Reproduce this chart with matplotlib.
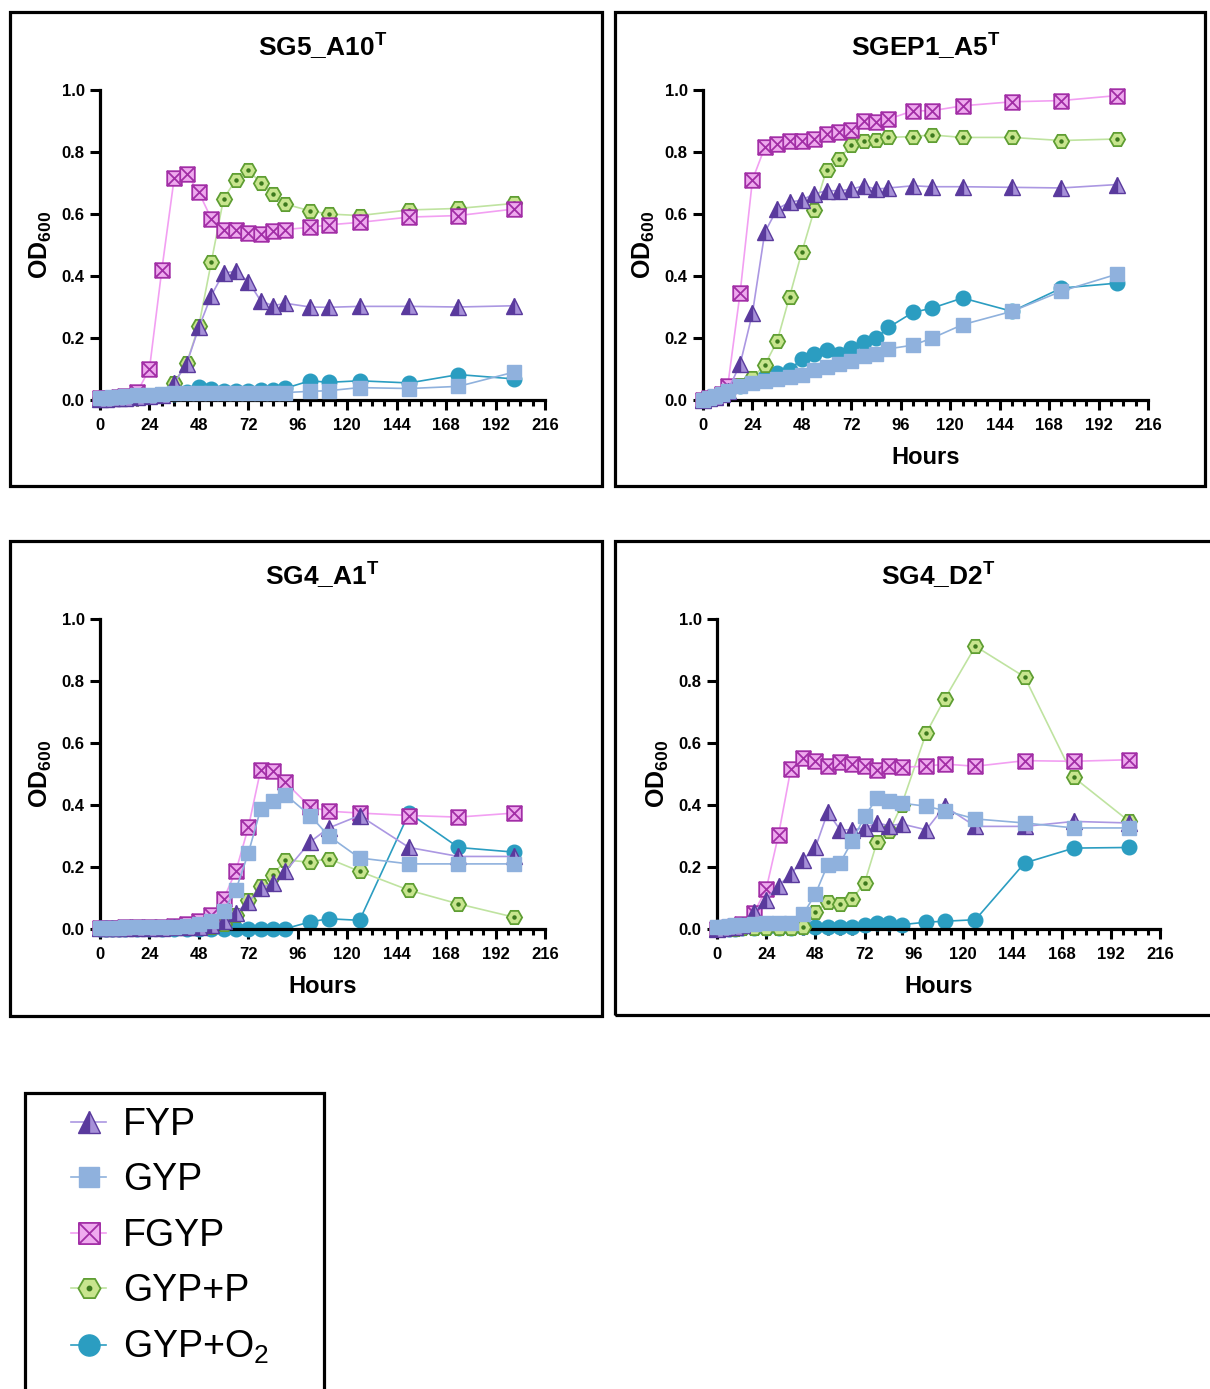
import matplotlib
matplotlib.use("Agg")
import matplotlib.pyplot as plt
from matplotlib.patches import Rectangle
from matplotlib.path import Path
from matplotlib.ticker import MultipleLocator, FormatStrFormatter

W, H = 1210, 1389

plt.rcParams["font.family"] = "Liberation Sans"
plt.rcParams["mathtext.fontset"] = "custom"
plt.rcParams["mathtext.rm"] = "Liberation Sans"
plt.rcParams["mathtext.bf"] = "Liberation Sans:bold"

# sampling times (hours)
HOURS = [0, 3, 6, 9, 12, 18, 24, 30, 36, 42, 48, 54, 60, 66, 72, 78, 84, 90,
         102, 111, 126, 150, 174, 201]

SERIES = ["FYP", "GYP", "FGYP", "GYP+P", "GYP+O2"]
LEGEND_LABELS = ["FYP", "GYP", "FGYP", "GYP+P", r"GYP+O$_\mathrm{2}$"]

# SG5_A10
fyp_a10 = [0.003, 0.004, 0.005, 0.006, 0.008, 0.01, 0.012, 0.015, 0.055, 0.116, 0.234, 0.337,
           0.41, 0.415, 0.382, 0.32, 0.304, 0.312, 0.30, 0.299, 0.302, 0.302, 0.30, 0.304]
gyp_a10 = [0.005, 0.007, 0.009, 0.011, 0.013, 0.015, 0.017, 0.019, 0.021, 0.022, 0.023, 0.023,
           0.023, 0.023, 0.023, 0.023, 0.023, 0.024, 0.028, 0.03, 0.04, 0.037, 0.044, 0.09]
fgyp_a10 = [0.005, 0.006, 0.008, 0.01, 0.012, 0.025, 0.10, 0.42, 0.715, 0.73, 0.67, 0.585,
            0.55, 0.55, 0.54, 0.535, 0.545, 0.55, 0.557, 0.565, 0.573, 0.59, 0.595, 0.616]
gypp_a10 = [0.005, 0.006, 0.008, 0.01, 0.012, 0.014, 0.016, 0.02, 0.056, 0.118, 0.24, 0.444,
            0.65, 0.71, 0.742, 0.70, 0.665, 0.632, 0.61, 0.60, 0.595, 0.613, 0.618, 0.634]
gypo_a10 = [0.003, 0.004, 0.005, 0.006, 0.008, 0.01, 0.012, 0.015, 0.02, 0.025, 0.043, 0.035,
            0.03, 0.03, 0.03, 0.032, 0.032, 0.038, 0.062, 0.057, 0.062, 0.055, 0.082, 0.068]

# SGEP1_A5
fyp_a5 = [0.0, 0.005, 0.01, 0.02, 0.03, 0.115, 0.28, 0.541, 0.616, 0.638, 0.645, 0.665,
          0.675, 0.675, 0.68, 0.691, 0.68, 0.684, 0.691, 0.688, 0.688, 0.686, 0.684, 0.695]
gyp_a5 = [0.0, 0.005, 0.012, 0.02, 0.03, 0.045, 0.055, 0.06, 0.068, 0.075, 0.081, 0.097,
          0.108, 0.116, 0.127, 0.143, 0.148, 0.165, 0.177, 0.199, 0.243, 0.286, 0.351, 0.406]
fgyp_a5 = [0.0, 0.005, 0.01, 0.02, 0.045, 0.345, 0.71, 0.815, 0.826, 0.836, 0.836, 0.842,
           0.858, 0.863, 0.871, 0.899, 0.896, 0.906, 0.933, 0.933, 0.949, 0.962, 0.966, 0.982]
gypp_a5 = [0.0, 0.005, 0.01, 0.02, 0.03, 0.05, 0.072, 0.113, 0.19, 0.333, 0.478, 0.613,
           0.743, 0.777, 0.823, 0.837, 0.839, 0.847, 0.85, 0.855, 0.847, 0.847, 0.837, 0.842]
gypo_a5 = [0.0, 0.005, 0.01, 0.02, 0.03, 0.045, 0.065, 0.075, 0.088, 0.098, 0.132, 0.148,
           0.161, 0.148, 0.167, 0.188, 0.199, 0.234, 0.283, 0.296, 0.329, 0.286, 0.361, 0.377]

# SG4_A1
fyp_a1 = [0.002, 0.002, 0.002, 0.003, 0.003, 0.003, 0.004, 0.004, 0.005, 0.006, 0.008, 0.012,
          0.025, 0.052, 0.087, 0.132, 0.148, 0.186, 0.281, 0.326, 0.366, 0.263, 0.234, 0.234]
gyp_a1 = [0.003, 0.003, 0.004, 0.004, 0.005, 0.005, 0.006, 0.007, 0.008, 0.01, 0.015, 0.025,
          0.059, 0.127, 0.245, 0.387, 0.414, 0.433, 0.366, 0.30, 0.229, 0.21, 0.21, 0.21]
fgyp_a1 = [0.003, 0.003, 0.004, 0.004, 0.005, 0.006, 0.007, 0.008, 0.01, 0.016, 0.027, 0.046,
           0.097, 0.188, 0.328, 0.514, 0.509, 0.473, 0.394, 0.38, 0.374, 0.366, 0.361, 0.374]
gypp_a1 = [0.001, 0.001, 0.001, 0.002, 0.002, 0.002, 0.002, 0.003, 0.003, 0.004, 0.005, 0.008,
           0.015, 0.046, 0.092, 0.14, 0.175, 0.222, 0.216, 0.227, 0.186, 0.125, 0.081, 0.038]
gypo_a1 = [0.001, 0.001, 0.001, 0.001, 0.001, 0.001, 0.001, 0.001, 0.001, 0.001, 0.001, 0.001,
           0.001, 0.001, 0.001, 0.001, 0.001, 0.001, 0.023, 0.033, 0.028, 0.374, 0.263, 0.248]

# SG4_D2
fyp_d2 = [0.0, 0.003, 0.005, 0.008, 0.012, 0.055, 0.095, 0.14, 0.177, 0.224, 0.263, 0.377,
          0.32, 0.32, 0.326, 0.342, 0.333, 0.339, 0.32, 0.396, 0.331, 0.331, 0.347, 0.342]
gyp_d2 = [0.005, 0.008, 0.01, 0.012, 0.014, 0.016, 0.018, 0.019, 0.02, 0.048, 0.113, 0.208,
          0.213, 0.285, 0.363, 0.423, 0.412, 0.406, 0.396, 0.382, 0.355, 0.342, 0.326, 0.326]
fgyp_d2 = [0.0, 0.003, 0.006, 0.01, 0.017, 0.052, 0.129, 0.304, 0.516, 0.552, 0.543, 0.525,
           0.538, 0.533, 0.525, 0.514, 0.527, 0.522, 0.525, 0.532, 0.525, 0.543, 0.541, 0.546]
gypp_d2 = [0.0, 0.0, 0.001, 0.001, 0.002, 0.002, 0.003, 0.003, 0.004, 0.006, 0.054, 0.087,
           0.081, 0.097, 0.15, 0.28, 0.315, 0.40, 0.632, 0.742, 0.912, 0.813, 0.489, 0.347]
gypo_d2 = [0.0, 0.0, 0.001, 0.001, 0.002, 0.002, 0.003, 0.003, 0.004, 0.005, 0.005, 0.005,
           0.006, 0.008, 0.014, 0.019, 0.019, 0.014, 0.022, 0.025, 0.03, 0.213, 0.261, 0.263]

STRAINS = ["SG5_A10", "SGEP1_A5", "SG4_A1", "SG4_D2"]
STRAIN_DATA = {
    "SG5_A10": [fyp_a10, gyp_a10, fgyp_a10, gypp_a10, gypo_a10],
    "SGEP1_A5": [fyp_a5, gyp_a5, fgyp_a5, gypp_a5, gypo_a5],
    "SG4_A1": [fyp_a1, gyp_a1, fgyp_a1, gypp_a1, gypo_a1],
    "SG4_D2": [fyp_d2, gyp_d2, fgyp_d2, gypp_d2, gypo_d2],
}

# layout in pixels: axes (left, top, right, bottom), frame box, show "Hours"
LAYOUT = {
    "SG5_A10": ((100, 90, 545, 400), (10, 12, 602, 486), False),
    "SGEP1_A5": ((703, 90, 1148, 400), (615, 12, 1205, 486), True),
    "SG4_A1": ((100, 619, 545, 929), (10, 541, 602, 1016), True),
    "SG4_D2": ((717, 619, 1160, 929), (615, 541, 1214, 1015), True),
}

# square with an X inside
BOX_X = Path([(-1, -1), (1, -1), (1, 1), (-1, 1), (-1, -1),
              (-1, -1), (1, 1), (-1, 1), (1, -1)],
             [Path.MOVETO, Path.LINETO, Path.LINETO, Path.LINETO, Path.CLOSEPOLY,
              Path.MOVETO, Path.LINETO, Path.MOVETO, Path.LINETO])

STYLE = {
    "FYP": dict(marker="^", ms=11, mfc="#5a3a9d", mfcalt="#a690d8", fillstyle="left",
                mec="#5a3a9d", mew=1.0, color="#ab97e2", zorder=5),
    "GYP": dict(marker="s", ms=10, mfc="#8fb1dd", mec="#8fb1dd", mew=1.0,
                color="#8fb1dd", zorder=6),
    "FGYP": dict(marker=BOX_X, ms=10.5, mfc="#efaaef", mec="#a22ea6", mew=1.3,
                 color="#f29ff2", zorder=4),
    "GYP+P": dict(marker="H", ms=11, mfc="#c8e58e", mec="#5f9e33", mew=1.3,
                  color="#bfe3a0", zorder=3),
    "GYP+O2": dict(marker="o", ms=10.5, mfc="#2b9dc1", mec="#2b9dc1", mew=1.0,
                   color="#2b9dc1", zorder=2),
}
DOT = dict(marker="o", ms=2.2, color="#3d7a1e", linestyle="none")


def px_rect(box):
    l, t, r, b = box
    return [l / W, 1 - b / H, (r - l) / W, (b - t) / H]


fig = plt.figure(figsize=(W / 100, H / 100), dpi=100)

handles = []
for strain in STRAINS:
    ax_box, frame, show_x = LAYOUT[strain]
    ax = fig.add_axes(px_rect(ax_box))
    fig.add_artist(Rectangle((frame[0] / W, 1 - frame[3] / H),
                             (frame[2] - frame[0]) / W, (frame[3] - frame[1]) / H,
                             transform=fig.transFigure, fill=False, lw=2.3, ec="black"))

    hs = []
    for name, vals in zip(SERIES, STRAIN_DATA[strain]):
        ln, = ax.plot(HOURS, vals, lw=1.2, clip_on=False, **STYLE[name])
        if name == "GYP+P":
            dot, = ax.plot(HOURS, vals, clip_on=False, zorder=STYLE[name]["zorder"], **DOT)
            hs.append((ln, dot))
        else:
            hs.append(ln)
    if not handles:
        handles = hs

    ax.set_xlim(0, 216)
    ax.set_ylim(0, 1.0)
    ax.xaxis.set_major_locator(MultipleLocator(24))
    ax.xaxis.set_minor_locator(MultipleLocator(6))
    ax.yaxis.set_major_locator(MultipleLocator(0.2))
    ax.yaxis.set_major_formatter(FormatStrFormatter("%.1f"))
    ax.tick_params(which="major", length=7.5, width=2.2, labelsize=12, pad=3.5)
    ax.tick_params(axis="x", which="major", pad=5.5)
    ax.tick_params(axis="x", which="minor", length=4.5, width=2.2)
    for lbl in ax.get_xticklabels() + ax.get_yticklabels():
        lbl.set_fontweight("bold")
    for side in ("top", "right"):
        ax.spines[side].set_visible(False)
    for side in ("left", "bottom"):
        ax.spines[side].set_linewidth(2.3)

    ax.set_ylabel(r"$\mathbf{OD}_{\mathbf{600}}$", fontsize=18)
    ax.yaxis.set_label_coords(-0.103, 0.5)
    if show_x:
        ax.set_xlabel("Hours", fontsize=17, fontweight="bold")
        ax.xaxis.set_label_coords(0.5, -0.148)
    ax.text(0.5, 1.142, strain + r"$^{\mathbf{T}}$", transform=ax.transAxes,
            ha="center", va="center", fontsize=19, fontweight="bold")

# legend in its own frame at the bottom left
fig.add_artist(Rectangle((25 / W, 1 - 1392 / H), 299 / W, 299 / H,
                         transform=fig.transFigure, fill=False, lw=2.3, ec="black",
                         clip_on=False))
fig.legend(handles, LEGEND_LABELS, loc="upper left",
           bbox_to_anchor=(52 / W, 1 - 1088 / H), frameon=False,
           prop={"size": 27}, handlelength=0.95,
           handletextpad=0.45, labelspacing=0.52, markerscale=1.45, borderpad=0)

fig.savefig("out.png", dpi=100)
